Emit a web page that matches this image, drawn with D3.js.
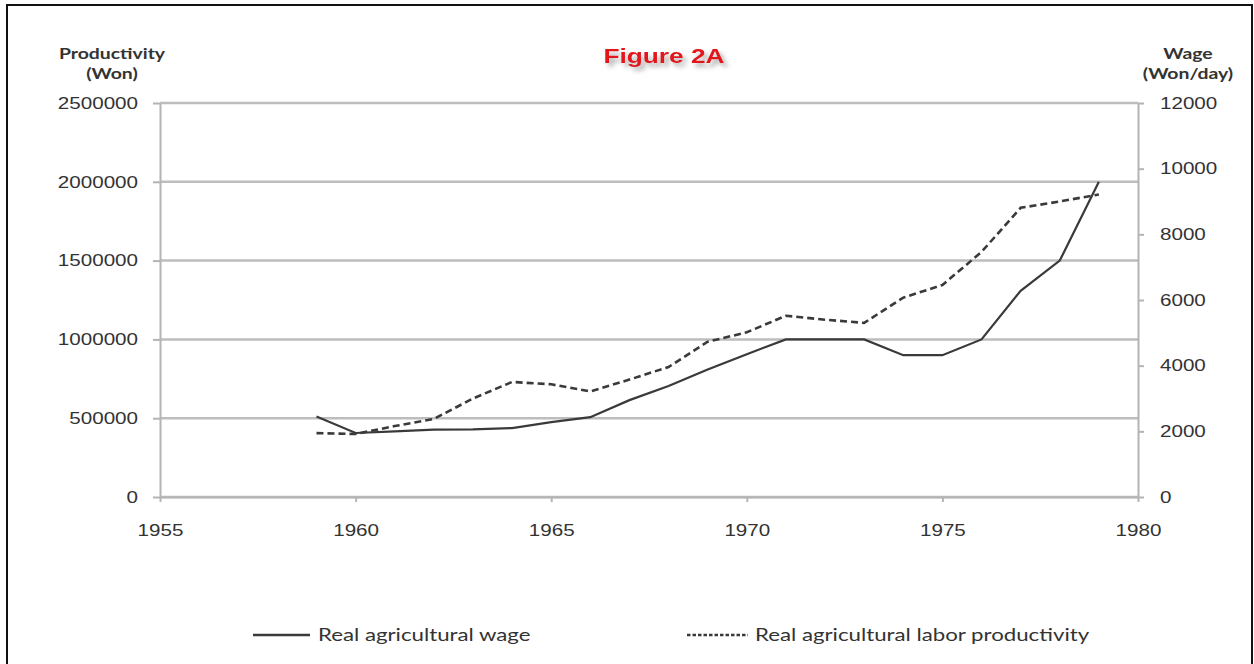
<!DOCTYPE html>
<html lang="en">
<head>
    <meta charset="UTF-8">
    <title>Figure 2A</title>
    <style>
        body {
            margin: 0;
            background: #fff;
        }
        svg {
            display: block;
            font-family: 'Lato', sans-serif;
        }
        .tick text {
            font-size: 16.5px;
            fill: #333;
        }
        .axis path, .axis line {
            stroke: #b4b4b4;
            stroke-width: 2;
        }
    </style>
</head>
<body>
    <svg width="1254" height="664"></svg>
    <script src="https://d3js.org/d3.v7.min.js"></script>
    <script>
        // Data
        const years = [1959, 1960, 1961, 1962, 1963, 1964, 1965, 1966, 1967, 1968, 1969,
                       1970, 1971, 1972, 1973, 1974, 1975, 1976, 1977, 1978, 1979];
        // Real agricultural wage (Won/day), right axis
        const wage = [2450, 1950, 2000, 2050, 2060, 2100, 2280, 2430, 2950, 3380, 3880,
                      4350, 4800, 4800, 4800, 4320, 4320, 4800, 6280, 7200, 9600];
        // Real agricultural labor productivity (Won), left axis
        const productivity = [405000, 400000, 450000, 495000, 625000, 730000, 715000, 670000,
                              745000, 825000, 985000, 1045000, 1150000, 1125000, 1105000,
                              1265000, 1345000, 1555000, 1835000, 1875000, 1920000];
        const xTicks = [1955, 1960, 1965, 1970, 1975, 1980];
        const leftTicks = [0, 500000, 1000000, 1500000, 2000000, 2500000];
        const rightTicks = [0, 2000, 4000, 6000, 8000, 10000, 12000];

        // the original picture is stretched horizontally, so text is too
        const SX = 1.25;

        const svg = d3.select("svg");

        const x = d3.scaleLinear().domain([1955, 1980]).range([160, 1138]);
        const yLeft = d3.scaleLinear().domain([0, 2500000]).range([497, 103]);
        const yRight = d3.scaleLinear().domain([0, 12000]).range([497, 103]);

        // outer frame
        svg.append("rect")
            .attr("x", 7).attr("y", 5)
            .attr("width", 1245).attr("height", 680)
            .attr("fill", "none")
            .attr("stroke", "#111")
            .attr("stroke-width", 2);

        // shadow for the title
        const defs = svg.append("defs");
        defs.append("filter")
            .attr("id", "shadow")
            .attr("x", "-20%").attr("y", "-40%")
            .attr("width", "150%").attr("height", "200%")
            .append("feDropShadow")
            .attr("dx", 3).attr("dy", 4)
            .attr("stdDeviation", 2)
            .attr("flood-color", "#777")
            .attr("flood-opacity", 0.6);

        // gridlines
        svg.append("g")
            .selectAll("line")
            .data(leftTicks)
            .join("line")
            .attr("x1", x(1955)).attr("x2", x(1980))
            .attr("y1", d => yLeft(d)).attr("y2", d => yLeft(d))
            .attr("stroke", "#bdbdbd")
            .attr("stroke-width", 2.5);

        function stretchTicks(g) {
            g.selectAll(".tick text").each(function() {
                const t = d3.select(this);
                const tx = +t.attr("x") || 0;
                t.attr("x", tx / SX).attr("transform", `scale(${SX},1)`);
            });
        }

        // left axis
        svg.append("g")
            .attr("class", "axis")
            .attr("transform", `translate(${x(1955)},0)`)
            .call(d3.axisLeft(yLeft).tickValues(leftTicks).tickSize(7).tickSizeOuter(0).tickPadding(15).tickFormat(d3.format("d")))
            .call(stretchTicks);

        // right axis
        svg.append("g")
            .attr("class", "axis")
            .attr("transform", `translate(${x(1980)},0)`)
            .call(d3.axisRight(yRight).tickValues(rightTicks).tickSize(6).tickSizeOuter(0).tickPadding(16).tickFormat(d3.format("d")))
            .call(stretchTicks);

        // bottom axis
        svg.append("g")
            .attr("class", "axis")
            .attr("transform", `translate(0,${yLeft(0)})`)
            .call(d3.axisBottom(x).tickValues(xTicks).tickSize(5).tickSizeOuter(0).tickPadding(22).tickFormat(d3.format("d")))
            .call(stretchTicks);

        // lines
        const wageLine = d3.line()
            .x((d, i) => x(years[i]))
            .y(d => yRight(d));
        const prodLine = d3.line()
            .x((d, i) => x(years[i]))
            .y(d => yLeft(d));

        svg.append("path")
            .datum(productivity)
            .attr("d", prodLine)
            .attr("fill", "none")
            .attr("stroke", "#3a3a3a")
            .attr("stroke-width", 2.6)
            .attr("stroke-dasharray", "7,4");

        svg.append("path")
            .datum(wage)
            .attr("d", wageLine)
            .attr("fill", "none")
            .attr("stroke", "#3a3a3a")
            .attr("stroke-width", 2.2);

        // free text helper
        function label(tx, ty, str, opts = {}) {
            return svg.append("text")
                .attr("transform", `translate(${tx},${ty}) scale(${SX},1)`)
                .attr("text-anchor", opts.anchor || "middle")
                .attr("font-size", opts.size || 16)
                .attr("font-weight", opts.weight || "normal")
                .attr("fill", opts.fill || "#333")
                .text(str);
        }

        label(112, 59, "Productivity", { weight: "bold", size: 15.5 });
        label(112, 79, "(Won)", { weight: "bold", size: 15.5 });
        label(1188, 59, "Wage", { weight: "bold", size: 15.5 });
        label(1188, 79, "(Won/day)", { weight: "bold", size: 15.5 });

        label(664, 63, "Figure 2A", { weight: "bold", size: 21, fill: "#e3141b" })
            .attr("font-family", "'Liberation Sans', Arial, sans-serif")
            .attr("filter", "url(#shadow)");

        // legend
        const legend = svg.append("g");
        legend.append("line")
            .attr("x1", 253).attr("x2", 310)
            .attr("y1", 635).attr("y2", 635)
            .attr("stroke", "#3a3a3a").attr("stroke-width", 2.5);
        label(318, 641, "Real agricultural wage", { anchor: "start", size: 17.8 });

        legend.append("line")
            .attr("x1", 687).attr("x2", 748)
            .attr("y1", 635).attr("y2", 635)
            .attr("stroke", "#3a3a3a").attr("stroke-width", 2.5)
            .attr("stroke-dasharray", "3.5,2");
        label(755, 641, "Real agricultural labor productivity", { anchor: "start", size: 17.8 });
    </script>
</body>
</html>
